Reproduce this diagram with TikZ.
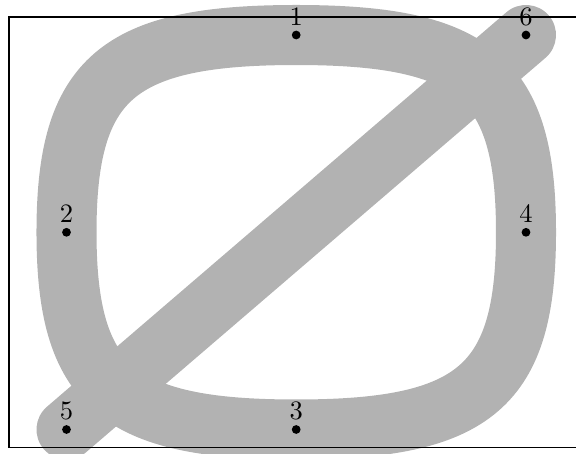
\documentclass[tikz,border=0pt]{standalone}
\usetikzlibrary{calc}
\begin{document}
\begin{tikzpicture}[x=0.013228cm,y=-0.013228cm,
  band/.style={line width=0.794cm, draw=black!30},
  diag/.style={band, line cap=round},
  dotnode/.style={circle, fill=black, inner sep=0pt, minimum size=3.3pt},
  frame/.style={draw=black, line width=0.4pt}]
\useasboundingbox (0,0) rectangle (576,454);
% points
\coordinate (c1) at (526,35);
\coordinate (c2) at (526,429.5);
\coordinate (c3) at (66.5,429.5);
\coordinate (c4) at (66.5,35);
\node[dotnode] (n1) at (296.2,35) {};
\node[dotnode] (n2) at (66.5,232.3) {};
\node[dotnode] (n3) at (296.2,429.5) {};
\node[dotnode] (n4) at (526,232.3) {};
\node[dotnode] (n5) at (66.5,429.5) {};
\node[dotnode] (n6) at (526,35) {};
% gray shapes
\draw[band] (n1.center)
  .. controls ($(n1.center)!0.78!(c1)$) and ($(n4.center)!0.78!(c1)$) .. (n4.center)
  .. controls ($(n4.center)!0.78!(c2)$) and ($(n3.center)!0.78!(c2)$) .. (n3.center)
  .. controls ($(n3.center)!0.78!(c3)$) and ($(n2.center)!0.78!(c3)$) .. (n2.center)
  .. controls ($(n2.center)!0.78!(c4)$) and ($(n1.center)!0.78!(c4)$) .. (n1.center) -- cycle;
\draw[diag] (n5.center) -- (n6.center);
% frame
\coordinate (f1) at (590,17);
\coordinate (f2) at (9,17);
\coordinate (f3) at (9,447.3);
\coordinate (f4) at (590,447.3);
\draw[frame] (f1) -- (f2) -- (f3) -- (f4);
% dots and labels on top
\foreach \i in {1,...,6} {
  \node[dotnode] at (n\i) {};
  \node[above, inner sep=3.33pt] (l\i) at (n\i.center) {\i};
}
\end{tikzpicture}
\end{document}
